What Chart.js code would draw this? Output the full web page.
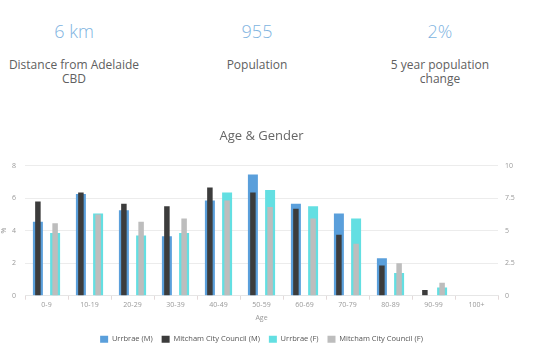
<!DOCTYPE html>
<html>
<head>
<meta charset="utf-8">
<script src="https://cdn.jsdelivr.net/npm/chart.js@4"></script>
<style>
  html, body { margin: 0; padding: 0; background: #fff; }
  body { width: 553px; height: 360px; position: relative; overflow: hidden; font-family: "Open Sans", sans-serif; }
  .stat { position: absolute; top: 18px; width: 180px; margin-left: -90px; text-align: center; }
  .stat .num { font-size: 18px; font-weight: 300; color: #80b4df; line-height: 26px; height: 26px; }
  .stat .lbl { margin-top: 14px; font-size: 12px; color: #606060; line-height: 14px; }
  #wrap { position: absolute; left: 0; top: 120px; width: 553px; height: 240px; }
</style>
</head>
<body>
<div class="stat" style="left:74px"><div class="num">6 km</div><div class="lbl">Distance from Adelaide<br>CBD</div></div>
<div class="stat" style="left:257px"><div class="num">955</div><div class="lbl">Population</div></div>
<div class="stat" style="left:440px"><div class="num">2%</div><div class="lbl">5 year population<br>change</div></div>
<div id="wrap"><canvas id="age_chart"></canvas></div>
<script>
const ageGroups = ["0-9", "10-19", "20-29", "30-39", "40-49", "50-59", "60-69", "70-79", "80-89", "90-99", "100+"];
const urrbraeMale = [4.55, 6.25, 5.25, 3.65, 5.85, 7.45, 5.65, 5.05, 2.3, 0, 0];
const mitchamMale = [5.8, 6.35, 5.65, 5.5, 6.65, 6.35, 5.35, 3.75, 1.85, 0.35, 0];
const urrbraeFemale = [3.85, 5.05, 3.7, 3.85, 6.35, 6.5, 5.5, 4.75, 1.4, 0.5, 0];
const mitchamFemale = [4.45, 5.0, 4.55, 4.75, 5.85, 5.45, 4.75, 3.2, 2.0, 0.8, 0];
const leftTicks = [0, 2, 4, 6, 8];
const rightTicks = [0, 2.5, 5, 7.5, 10];

Chart.defaults.font.family = "'Open Sans', sans-serif";
Chart.defaults.color = "#999";

const cxt = document.getElementById("age_chart");

// same "stack" name = same slot in the group; y is not stacked, so the thin bars overlay the wide ones
const wideBar = { barPercentage: 0.58, categoryPercentage: 0.8 };
const thinBar = { barPercentage: 0.32, categoryPercentage: 0.8 };

new Chart(cxt, {
  type: "bar",
  data: {
    labels: ageGroups,
    datasets: [
      { label: "Urrbrae (M)", data: urrbraeMale, backgroundColor: "#5a9fdb", stack: "male", order: 3, ...wideBar },
      { label: "Mitcham City Council (M)", data: mitchamMale, backgroundColor: "#3c3c3c", stack: "male", order: 1, ...thinBar },
      { label: "Urrbrae (F)", data: urrbraeFemale, backgroundColor: "#63dfe2", stack: "female", order: 4, ...wideBar },
      { label: "Mitcham City Council (F)", data: mitchamFemale, backgroundColor: "#bdbdbd", stack: "female", order: 2, ...thinBar },
    ],
  },
  options: {
    responsive: true,
    maintainAspectRatio: false,
    animation: false,
    layout: { padding: { top: 0, bottom: 7, left: 0, right: 0 } },
    plugins: {
      tooltip: { enabled: false },
      title: {
        display: true,
        text: "Age & Gender",
        fullSize: false,
        color: "#666",
        font: { size: 13, weight: "normal" },
        padding: { top: 8, bottom: 22 },
      },
      legend: {
        position: "bottom",
        fullSize: false,
        labels: {
          boxWidth: 8,
          boxHeight: 7,
          padding: 9,
          color: "#555",
          font: { size: 7.5 },
          sort: (a, b) => a.datasetIndex - b.datasetIndex,
        },
      },
    },
    scales: {
      x: {
        offset: true,
        grid: { offset: true, drawOnChartArea: false, tickLength: 4, color: "#e3dada" },
        border: { color: "#e6e6e6" },
        ticks: { padding: 1, font: { size: 7 }, color: "#999" },
        title: { display: true, text: "Age", color: "#999", font: { size: 7 }, padding: { top: 4, bottom: 4 } },
      },
      y: {
        position: "left",
        stacked: false,
        min: 0,
        max: 8,
        afterFit: (s) => { s.width = 25; },
        afterBuildTicks: (s) => { s.ticks = leftTicks.map((v) => ({ value: v })); },
        grid: { color: "#ececec", drawTicks: false },
        border: { display: false },
        ticks: { padding: 9, font: { size: 7 }, color: "#999" },
        title: { display: true, text: "%", color: "#999", font: { size: 7 }, padding: 0 },
      },
      y1: {
        position: "right",
        min: 0,
        max: 10,
        afterFit: (s) => { s.width = 55; },
        afterBuildTicks: (s) => { s.ticks = rightTicks.map((v) => ({ value: v })); },
        grid: { drawOnChartArea: false, drawTicks: false },
        border: { display: false },
        ticks: { padding: 7, font: { size: 7 }, color: "#999" },
      },
    },
  },
});
</script>
</body>
</html>
